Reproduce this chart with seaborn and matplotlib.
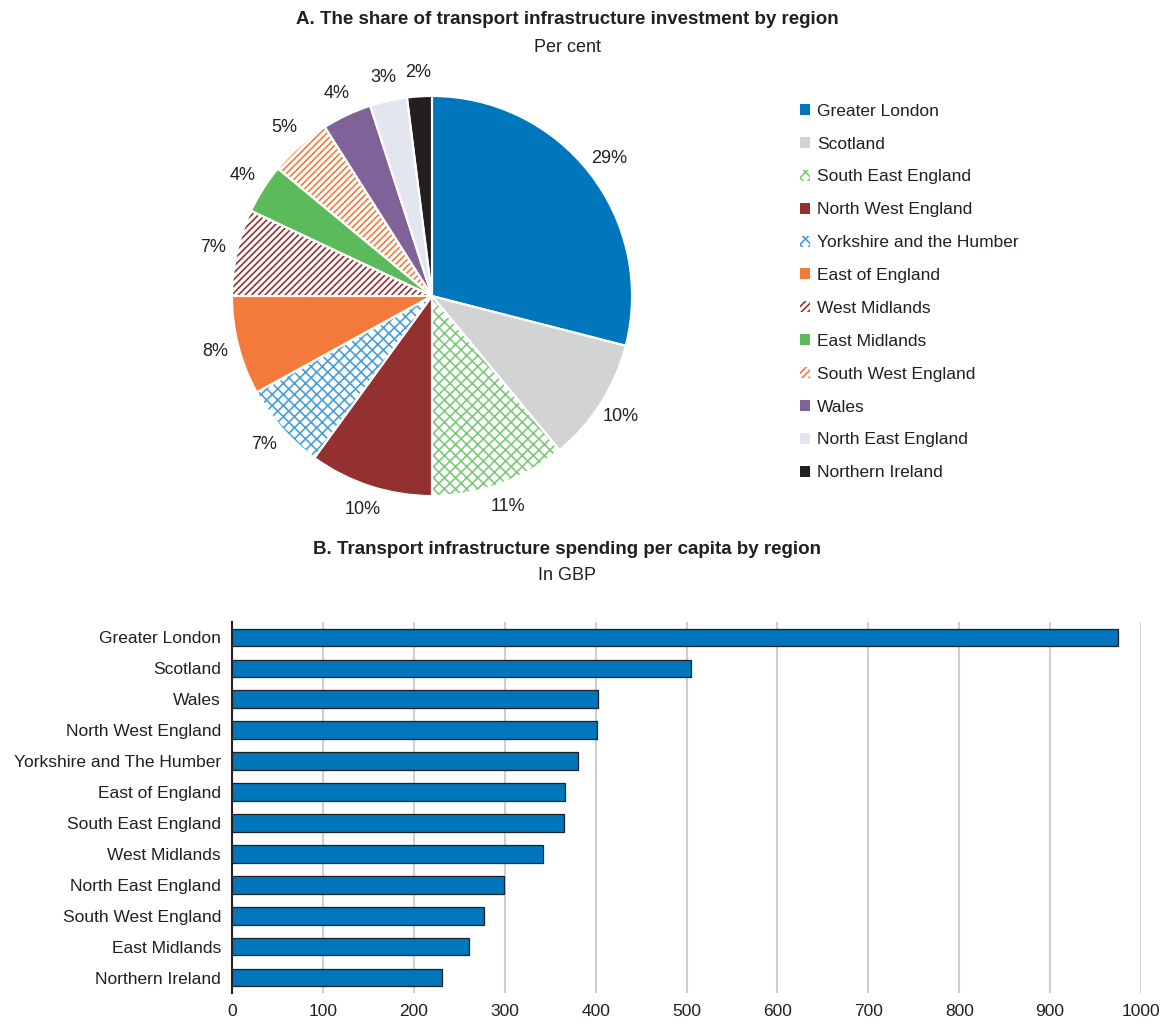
import numpy as np
import pandas as pd
import matplotlib
matplotlib.use("Agg")
import matplotlib.pyplot as plt
import matplotlib.patches as mpatches
import seaborn as sns

# ---------------- data ----------------
pie_regions = ["Greater London", "Scotland", "South East England", "North West England",
               "Yorkshire and the Humber", "East of England", "West Midlands", "East Midlands",
               "South West England", "Wales", "North East England", "Northern Ireland"]
pie_share = [29, 10, 11, 10, 7, 8, 7, 4, 5, 4, 3, 2]
pie_colors = ["#0077BD", "#D1D3D4", "#7DC97B", "#933130", "#4A9FD9", "#F47A3C",
              "#933130", "#5BBB5B", "#F47A3C", "#7F6398", "#E3E6EE", "#231F20"]
pie_hatches = [None, None, "xxx", None, "xxx", None, "/////", None, "/////", None, None, None]

bar_regions = ["Greater London", "Scotland", "Wales", "North West England",
               "Yorkshire and The Humber", "East of England", "South East England",
               "West Midlands", "North East England", "South West England",
               "East Midlands", "Northern Ireland"]
bar_spend = [975, 505, 403, 401, 381, 366, 365, 342, 299, 277, 261, 231]

# ---------------- style ----------------
sns.set_style("white")
plt.rcParams['font.family'] = ['Liberation Sans Narrow', 'Liberation Sans', 'DejaVu Sans']
plt.rcParams['hatch.linewidth'] = 1.2
TXT = "#231F20"

fig = plt.figure(figsize=(11.69, 10.26), dpi=100)

# ---------------- panel A: pie ----------------
ax1 = fig.add_axes([182/1169, 480/1026, 500/1169, 500/1026])

# first pass: fills and hatches
wedges, _ = ax1.pie(pie_share, startangle=90, counterclock=False, radius=1)
for w, c, h in zip(wedges, pie_colors, pie_hatches):
    w.set_linewidth(0)
    if h:
        w.set_facecolor("white")
        w.set_edgecolor(c)
        w.set_hatch(h)
    else:
        w.set_facecolor(c)
        w.set_edgecolor(c)

# second pass: white separators and percentage labels
wedges2, _, autotexts = ax1.pie(pie_share, startangle=90, counterclock=False, radius=1,
                                autopct="%d%%", pctdistance=1.12,
                                wedgeprops=dict(fill=False, edgecolor="white", linewidth=1.5),
                                textprops=dict(fontsize=13, color=TXT))
ax1.set_xlim(-1.25, 1.25)
ax1.set_ylim(-1.25, 1.25)
ax1.set_aspect("equal")

handles = []
for lbl, c, h in zip(pie_regions, pie_colors, pie_hatches):
    if h:
        handles.append(mpatches.Patch(facecolor="white", edgecolor=c, hatch=h, linewidth=0, label=lbl))
    else:
        handles.append(mpatches.Patch(facecolor=c, edgecolor=c, linewidth=0, label=lbl))
fig.legend(handles=handles, loc="upper left", bbox_to_anchor=(784/1169, 1 - 88/1026),
           frameon=False, fontsize=12.5, handlelength=0.6, handleheight=0.6,
           handletextpad=0.4, labelspacing=1.03, labelcolor=TXT)

fig.text(567/1169, 1 - 20/1026, "A. The share of transport infrastructure investment by region",
         ha="center", va="center", fontsize=13.5, fontweight="bold", color=TXT)
fig.text(567/1169, 1 - 47/1026, "Per cent", ha="center", va="center", fontsize=13, color=TXT)

# ---------------- panel B: bars ----------------
ax2 = fig.add_axes([232/1169, 33/1026, 909/1169, 371/1026])
df = pd.DataFrame({"region": bar_regions, "spend": bar_spend})
sns.barplot(data=df, x="spend", y="region", color="#0077BD", saturation=1,
            width=0.57, edgecolor="#231F20", linewidth=0.9, ax=ax2, zorder=3)
ax2.set_xlim(0, 1000)
ax2.set_ylim(11.5, -0.5)
ax2.set_xticks(np.arange(0, 1001, 100))
ax2.xaxis.grid(True, color="#CFCFCF", linewidth=1.5, zorder=0)
ax2.yaxis.grid(False)
ax2.set_axisbelow(True)
for s in ["top", "right", "bottom"]:
    ax2.spines[s].set_visible(False)
ax2.spines["left"].set_color(TXT)
ax2.spines["left"].set_linewidth(1.5)
ax2.tick_params(axis="both", length=0, labelsize=12.5, colors=TXT, pad=8)
ax2.set_xlabel("")
ax2.set_ylabel("")

fig.text(567/1169, 1 - 550/1026, "B. Transport infrastructure spending per capita by region",
         ha="center", va="center", fontsize=13.5, fontweight="bold", color=TXT)
fig.text(567/1169, 1 - 576/1026, "In GBP", ha="center", va="center", fontsize=13, color=TXT)

fig.savefig("out.png", dpi=100)
